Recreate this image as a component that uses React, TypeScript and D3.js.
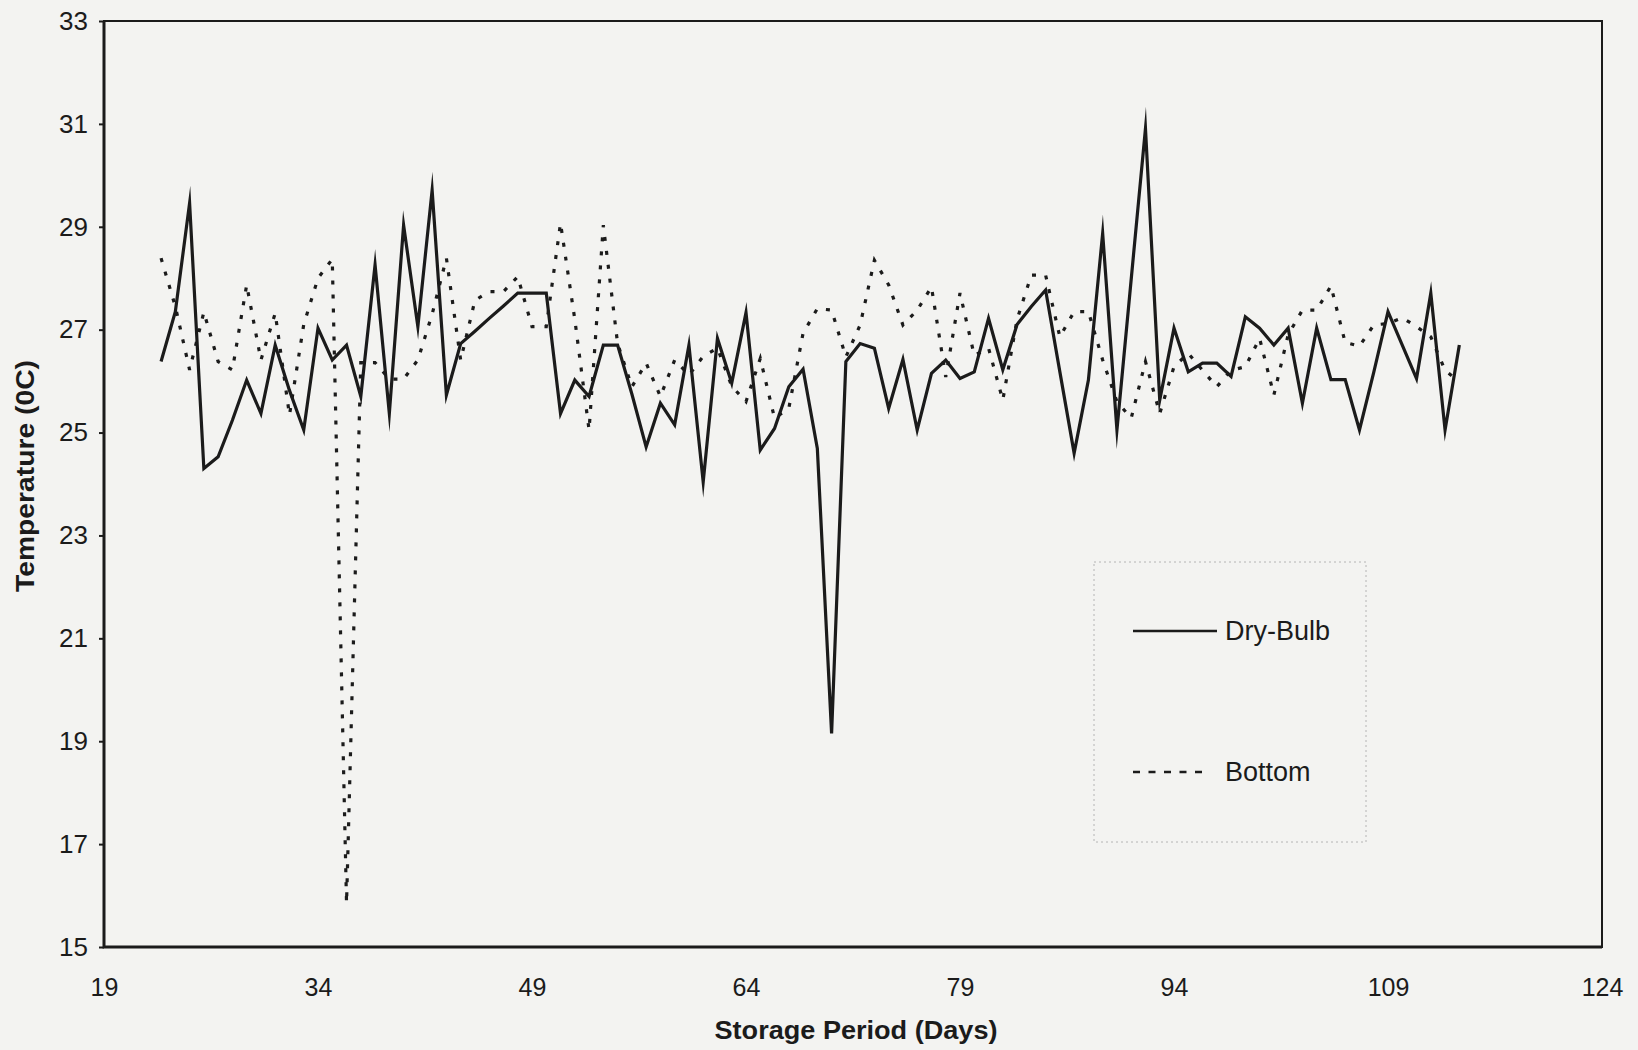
import React, { useEffect, useRef } from 'react';
import * as d3 from 'd3';

// storage day of each reading
const days = [
  23, 24, 25, 26, 27, 28, 29, 30, 31, 32, 33, 34, 35, 36, 37, 38, 39, 40, 41, 42,
  43, 44, 45, 46, 47, 48, 49, 50, 51, 52, 53, 54, 55, 56, 57, 58, 59, 60, 61, 62,
  63, 64, 65, 66, 67, 68, 69, 70, 71, 72, 73, 74, 75, 76, 77, 78, 79, 80, 81, 82,
  83, 84, 85, 86, 87, 88, 89, 90, 91, 92, 93, 94, 95, 96, 97, 98, 99, 100, 101, 102,
  103, 104, 105, 106, 107, 108, 109, 110, 111, 112, 113, 114,
];

// temperature (0C), dry-bulb
const dryBulb = [
  26.38, 27.35, 29.46, 24.30, 24.53, 25.24, 26.02, 25.37, 26.70, 25.82,
  25.05, 27.03, 26.41, 26.70, 25.70, 28.26, 25.37, 29.03, 27.06, 29.71,
  25.73, 26.73, 26.97, 27.22, 27.46, 27.71, 27.71, 27.71, 25.37, 26.02,
  25.70, 26.70, 26.70, 25.75, 24.72, 25.57, 25.15, 26.70, 24.04, 26.83,
  25.96, 27.33, 24.66, 25.08, 25.89, 26.23, 24.69, 19.15, 26.38, 26.73,
  26.64, 25.47, 26.42, 25.05, 26.15, 26.41, 26.05, 26.18, 27.22, 26.22,
  27.10, 27.45, 27.77, 26.18, 24.60, 26.02, 28.87, 25.05, 27.98, 30.91,
  25.63, 27.03, 26.18, 26.35, 26.35, 26.09, 27.25, 27.03, 26.70, 27.03,
  25.57, 27.03, 26.03, 26.03, 25.05, 26.17, 27.35, 26.70, 26.05, 27.71,
  25.05, 26.70,
];

// temperature (0C), bottom of the store
const bottom = [
  28.39, 27.45, 26.22, 27.34, 26.38, 26.22, 27.87, 26.41, 27.32, 25.34,
  27.10, 28.00, 28.37, 15.85, 26.36, 26.36, 26.04, 26.04, 26.41, 27.30,
  28.39, 26.41, 27.57, 27.74, 27.74, 28.03, 27.06, 27.06, 29.07, 27.20,
  25.05, 29.03, 26.73, 25.89, 26.35, 25.70, 26.41, 26.12, 26.48, 26.64,
  25.90, 25.60, 26.44, 25.28, 25.47, 26.93, 27.41, 27.38, 26.47, 27.09,
  28.35, 27.87, 27.09, 27.38, 27.83, 26.08, 27.71, 26.50, 26.64, 25.63,
  27.20, 28.06, 28.06, 26.86, 27.35, 27.35, 26.41, 25.60, 25.28, 26.38,
  25.37, 26.28, 26.54, 26.21, 25.89, 26.21, 26.28, 26.83, 25.73, 26.90,
  27.38, 27.38, 27.85, 26.75, 26.68, 27.09, 27.12, 27.23, 27.06, 26.86,
  26.21, 25.98,
];

const xTicks = [19, 34, 49, 64, 79, 94, 109, 124];
const yTicks = [15, 17, 19, 21, 23, 25, 27, 29, 31, 33];
const seriesNames = ['Dry-Bulb', 'Bottom'];

const W = 1638;
const H = 1050;
const margin = { top: 21, right: 36, bottom: 103, left: 104 };
const ink = '#1b1b1b';
const font = '"Liberation Sans", Arial, sans-serif';
const dotted = '4 10';

const App = () => {
  const ref = useRef<SVGSVGElement>(null);

  useEffect(() => {
    const svg = d3.select(ref.current);
    svg.selectAll('*').remove();

    const x = d3.scaleLinear().domain([19, 124]).range([margin.left, W - margin.right]);
    const y = d3.scaleLinear().domain([15, 33]).range([H - margin.bottom, margin.top]);

    svg.append('rect')
      .attr('width', W)
      .attr('height', H)
      .attr('fill', '#f3f3f1');

    // y axis
    const gy = svg.append('g')
      .attr('transform', `translate(${margin.left},0)`)
      .call(d3.axisLeft(y).tickValues(yTicks).tickSize(5).tickPadding(11).tickFormat(d3.format('d')));
    gy.select('.domain').remove();
    gy.selectAll('line').attr('stroke', ink).attr('stroke-width', 2);
    gy.selectAll('text')
      .attr('fill', ink)
      .style('font-family', font)
      .style('font-size', '26px');

    // x axis
    const gx = svg.append('g')
      .attr('transform', `translate(0,${H - margin.bottom})`)
      .call(d3.axisBottom(x).tickValues(xTicks).tickSize(0).tickPadding(31).tickFormat(d3.format('d')));
    gx.select('.domain').remove();
    gx.selectAll('text')
      .attr('fill', ink)
      .style('font-family', font)
      .style('font-size', '25px');

    // plot frame
    svg.append('rect')
      .attr('x', margin.left)
      .attr('y', margin.top)
      .attr('width', W - margin.left - margin.right)
      .attr('height', H - margin.top - margin.bottom)
      .attr('fill', 'none')
      .attr('stroke', ink)
      .attr('stroke-width', 2);
    svg.append('path')
      .attr('d', `M${margin.left},${margin.top}V${H - margin.bottom}H${W - margin.right}`)
      .attr('fill', 'none')
      .attr('stroke', ink)
      .attr('stroke-width', 3);

    const line = d3.line<number>()
      .x((_, i) => x(days[i]))
      .y(d => y(d));

    svg.append('path')
      .datum(bottom)
      .attr('d', line)
      .attr('fill', 'none')
      .attr('stroke', ink)
      .attr('stroke-width', 3.2)
      .attr('stroke-dasharray', dotted);

    svg.append('path')
      .datum(dryBulb)
      .attr('d', line)
      .attr('fill', 'none')
      .attr('stroke', ink)
      .attr('stroke-width', 3.2)
      .attr('stroke-linejoin', 'miter')
      .attr('stroke-miterlimit', 20);

    // axis titles
    svg.append('text')
      .attr('x', 856)
      .attr('y', 1039)
      .attr('text-anchor', 'middle')
      .attr('textLength', 283)
      .attr('lengthAdjust', 'spacingAndGlyphs')
      .attr('fill', ink)
      .style('font-family', font)
      .style('font-size', '26px')
      .style('font-weight', 'bold')
      .text('Storage Period (Days)');

    svg.append('text')
      .attr('transform', 'translate(34,476) rotate(-90)')
      .attr('text-anchor', 'middle')
      .attr('textLength', 232)
      .attr('lengthAdjust', 'spacingAndGlyphs')
      .attr('fill', ink)
      .style('font-family', font)
      .style('font-size', '26px')
      .style('font-weight', 'bold')
      .text('Temperature (0C)');

    // legend
    const lg = svg.append('g');
    lg.append('rect')
      .attr('x', 1094)
      .attr('y', 562)
      .attr('width', 272)
      .attr('height', 280)
      .attr('fill', 'none')
      .attr('stroke', '#b4b4b4')
      .attr('stroke-width', 1)
      .attr('stroke-dasharray', '2 3');

    const rows = [
      { name: seriesNames[0], y: 631, x2: 1217, dash: null },
      { name: seriesNames[1], y: 772, x2: 1206, dash: '7 8.5' },
    ];
    rows.forEach(r => {
      lg.append('line')
        .attr('x1', 1133)
        .attr('x2', r.x2)
        .attr('y1', r.y)
        .attr('y2', r.y)
        .attr('stroke', ink)
        .attr('stroke-width', 2.6)
        .attr('stroke-dasharray', r.dash);
      lg.append('text')
        .attr('x', 1225)
        .attr('y', r.y)
        .attr('dy', '0.35em')
        .attr('fill', ink)
        .style('font-family', font)
        .style('font-size', '27px')
        .text(r.name);
    });
  }, []);

  return (
    <svg
      ref={ref}
      width={W}
      height={H}
      style={{ position: 'absolute', left: 0, top: 0, display: 'block' }}
    />
  );
};

export default App;
